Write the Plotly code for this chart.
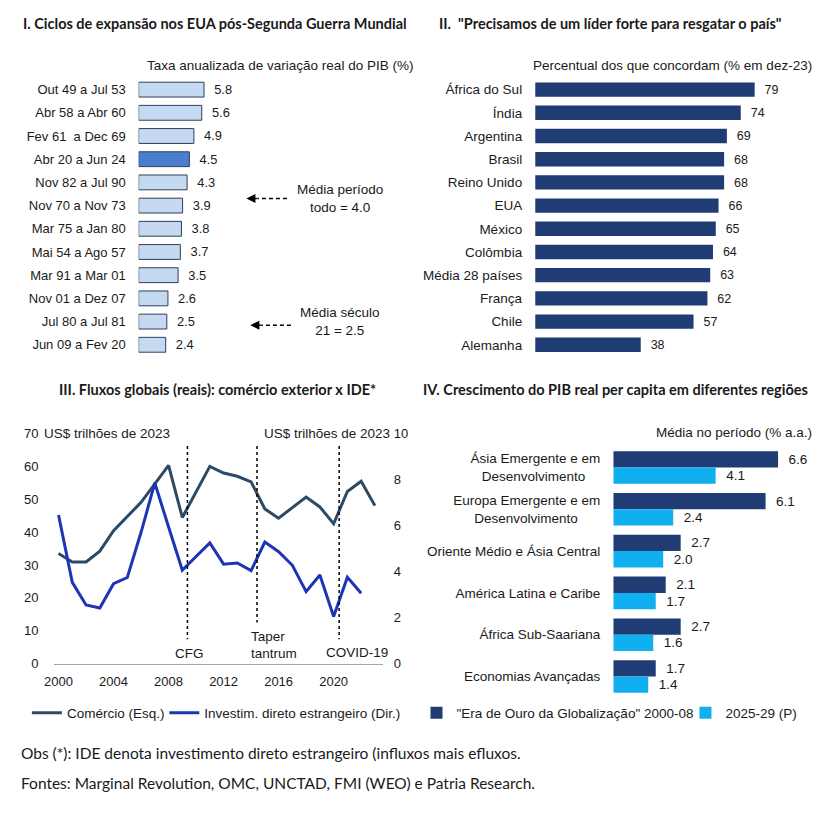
import plotly.graph_objects as go

# page is 823x828; browser default body margin is 8px, so the figure is 807x812
PAGE_W, PAGE_H = 823, 828
M = 8
W, H = PAGE_W - 2 * M, PAGE_H - 2 * M

# ---------------- DATA ----------------
ciclos = ["Out 49 a Jul 53", "Abr 58 a Abr 60", "Fev 61  a Dec 69", "Abr 20 a Jun 24",
          "Nov 82 a Jul 90", "Nov 70 a Nov 73", "Mar 75 a Jan 80", "Mai 54 a Ago 57",
          "Mar 91 a Mar 01", "Nov 01 a Dez 07", "Jul 80 a Jul 81", "Jun 09 a Fev 20"]
taxa_pib = [5.8, 5.6, 4.9, 4.5, 4.3, 3.9, 3.8, 3.7, 3.5, 2.6, 2.5, 2.4]
ciclo_destaque = "Abr 20 a Jun 24"

paises = ["África do Sul", "Índia", "Argentina", "Brasil", "Reino Unido", "EUA", "México",
          "Colômbia", "Média 28 países", "França", "Chile", "Alemanha"]
concordam = [79, 74, 69, 68, 68, 66, 65, 64, 63, 62, 57, 38]

anos_comercio = list(range(2000, 2024))
comercio = [33.5, 30.9, 30.9, 34.2, 40.4, 44.7, 49.0, 54.6, 60.2, 44.4, 52.2, 59.9,
            57.9, 56.9, 55.2, 47.0, 44.2, 47.5, 50.6, 47.6, 42.5, 52.3, 55.4, 48.0]
anos_ide = list(range(2000, 2023))
ide = [6.45, 3.53, 2.55, 2.42, 3.47, 3.74, 5.7, 7.84, 5.93, 4.06, 4.65, 5.24,
       4.32, 4.37, 4.04, 5.28, 4.86, 4.27, 3.13, 3.85, 2.05, 3.75, 3.06]
eventos_ano = [2009.37, 2014.43, 2020.4]
x3_ticks = [2000, 2004, 2008, 2012, 2016, 2020]

regioes = ["Ásia Emergente e em<br>Desenvolvimento", "Europa Emergente e em<br>Desenvolvimento",
           "Oriente Médio e Ásia Central", "América Latina e Caribe",
           "África Sub-Saariana", "Economias Avançadas"]
era_ouro = [6.6, 6.1, 2.7, 2.1, 2.7, 1.7]
proj_2025_29 = [4.1, 2.4, 2.0, 1.7, 1.6, 1.4]

# ---------------- STYLE ----------------
FONT = "Liberation Sans"
TITLE_FONT = "Lato"
TXT = "#1a1a1a"
C_LIGHT = "#c5d9f1"
C_HIGH = "#4a7fcf"
C_EDGE = "#2b3f5c"
C_NAVY = "#1f3c74"
C_CYAN = "#10b0f0"
C_COM = "#2d4a64"
C_IDE = "#1d35b5"
NB = "\u00a0"


def px(x):
    return (x - M) / W


def py(y):
    return 1 - (y - M) / H


# centre the two-line labels of panel IV (plotly right-aligns tick label lines)
regioes_txt = [r.replace("<br>Desenvolvimento", "<br>Desenvolvimento" + NB * n) if "<br>" in r else r
               for r, n in zip(regioes, [4, 6, 0, 0, 0, 0])]

fig = go.Figure()

fig.add_trace(go.Bar(
    x=taxa_pib, y=ciclos, orientation="h", xaxis="x", yaxis="y",
    marker=dict(color=[C_HIGH if c == ciclo_destaque else C_LIGHT for c in ciclos],
                line=dict(color=C_EDGE, width=1)),
    width=0.64, text=["  " + f"{v:.1f}" for v in taxa_pib], textposition="outside",
    textfont=dict(family=FONT, size=13, color=TXT), cliponaxis=False, showlegend=False))

fig.add_trace(go.Bar(
    x=concordam, y=paises, orientation="h", xaxis="x2", yaxis="y2",
    marker=dict(color=C_NAVY, line=dict(width=0)),
    width=0.62, text=["  " + str(v) for v in concordam], textposition="outside",
    textfont=dict(family=FONT, size=13, color=TXT), cliponaxis=False, showlegend=False))

fig.add_trace(go.Scatter(
    x=anos_comercio, y=comercio, mode="lines", xaxis="x3", yaxis="y3",
    line=dict(color=C_COM, width=3), name="Comércio (Esq.)", legend="legend"))
fig.add_trace(go.Scatter(
    x=anos_ide, y=ide, mode="lines", xaxis="x3", yaxis="y4",
    line=dict(color=C_IDE, width=3), name="Investim. direto estrangeiro (Dir.)", legend="legend2"))

fig.add_trace(go.Bar(
    x=era_ouro, y=regioes, orientation="h", xaxis="x5", yaxis="y5",
    marker=dict(color=C_NAVY, line=dict(width=0)), width=0.39, offset=-0.39,
    text=["  " + f"{v:.1f}" for v in era_ouro], textposition="outside",
    textfont=dict(family=FONT, size=13.5, color=TXT), cliponaxis=False,
    name="\"Era de Ouro da Globalização\" 2000-08", legend="legend3"))
fig.add_trace(go.Bar(
    x=proj_2025_29, y=regioes, orientation="h", xaxis="x5", yaxis="y5",
    marker=dict(color=C_CYAN, line=dict(width=0)), width=0.39, offset=0.0,
    text=["  " + f"{v:.1f}" for v in proj_2025_29], textposition="outside",
    textfont=dict(family=FONT, size=13.5, color=TXT), cliponaxis=False,
    name="2025-29 (P)", legend="legend4"))

tickfont = dict(family=FONT, size=13, color=TXT)
tickfont_l = dict(family=FONT, size=13.5, color=TXT)
hidden_x = dict(visible=False, showgrid=False, zeroline=False, fixedrange=True)
cat_y = dict(type="category", autorange="reversed", showgrid=False, zeroline=False,
             showline=False, ticks="", ticklabelstandoff=12)

shapes = []
for xv in eventos_ano:
    y_end = 627 if abs(xv - 2014.43) < 0.01 else 644
    shapes.append(dict(type="line", xref="x3", yref="paper", x0=xv, x1=xv,
                       y0=py(447), y1=py(y_end), line=dict(color="#000000", width=1.5, dash="dot")))

for yy, x_tail in [(195, 281), (324, 285)]:
    shapes.append(dict(type="line", xref="paper", yref="paper", x0=px(x_tail), x1=px(x_tail - 30),
                       y0=py(yy), y1=py(yy), line=dict(color="#000000", width=1.5, dash="4px,3px")))

annotations = []


def ann(text, x, y, size=13, xanchor="left", bold=False, family=FONT, align="left"):
    annotations.append(dict(text=f"<b>{text}</b>" if bold else text, x=px(x), y=py(y),
                            xref="paper", yref="paper", showarrow=False, xanchor=xanchor,
                            yanchor="middle", align=align,
                            font=dict(family=family, size=size, color=TXT)))


ann("I. Ciclos de expansão nos EUA pós-Segunda Guerra Mundial", 12, 17, 14.5, bold=True, family=TITLE_FONT)
ann("II.  \"Precisamos de um líder forte para resgatar o país\"", 433, 17, 14.5, bold=True, family=TITLE_FONT)
ann("III. Fluxos globais (reais): comércio exterior x IDE*", 211, 390, 14.5, xanchor="center", bold=True, family=TITLE_FONT)
ann("IV. Crescimento do PIB real per capita em diferentes regiões", 417, 390, 14.5, bold=True, family=TITLE_FONT)

ann("Taxa anualizada de variação real do PIB (%)", 410, 59, 13.5, xanchor="right")
ann("Percentual dos que concordam (% em dez-23)", 814, 59, 13.5, xanchor="right")
ann("Média no período (% a.a.)", 814, 433, 13.5, xanchor="right")

ann("Média período<br>todo = 4.0", 335, 195, 13.5, xanchor="center", align="center")
ann("Média século<br>21 = 2.5", 335, 320, 13.5, xanchor="center", align="center")

ann("US$ trilhões de 2023", 33, 434, 13.5)
ann("US$ trilhões de 2023", 387, 434, 13.5, xanchor="right")
ann("CFG", 182, 659, 13.5, xanchor="center")
ann("Taper", 243, 641, 13.5)
ann("tantrum", 243, 659, 13.5)
ann("COVID-19", 352, 658, 13.5, xanchor="center")

ann("Obs (*): IDE denota investimento direto estrangeiro (influxos mais efluxos.", 10, 760, 15.5, family=TITLE_FONT)
ann("Fontes: Marginal Revolution, OMC, UNCTAD, FMI (WEO) e Patria Research.", 10, 790, 15.5, family=TITLE_FONT)

for yy, xh in [(195, 240), (324, 244)]:
    annotations.append(dict(x=px(xh), y=py(yy), ax=12, ay=0, xref="paper", yref="paper",
                            showarrow=True, arrowhead=2, arrowsize=1.2,
                            arrowwidth=1.5, arrowcolor="#000000", text=""))

leg_common = dict(orientation="h", yanchor="middle", xanchor="left", bgcolor="rgba(0,0,0,0)",
                  font=dict(family=FONT, size=13.5, color=TXT), itemwidth=30)

fig.update_layout(
    width=W, height=H, margin=dict(l=0, r=0, t=0, b=0),
    paper_bgcolor="white", plot_bgcolor="white",
    font=dict(family=FONT, size=13, color=TXT),
    barmode="overlay",
    xaxis=dict(domain=[px(131), px(245)], range=[0, 10], anchor="y", **hidden_x),
    yaxis=dict(domain=[py(355.8), py(72.2)], anchor="x", tickfont=tickfont, **cat_y),
    xaxis2=dict(domain=[px(532), px(813)], range=[0, 100], anchor="y2", **hidden_x),
    yaxis2=dict(domain=[py(355.8), py(72.2)], anchor="x2", tickfont=tickfont_l, **cat_y),
    xaxis3=dict(domain=[px(45), px(378)], range=[1999.64, 2023.58], anchor="y3",
                tickvals=x3_ticks, showgrid=False, zeroline=False, showline=True,
                linecolor="#a6a6a6", linewidth=1, ticks="", tickfont=tickfont, ticklabelstandoff=6),
    yaxis3=dict(domain=[py(669), py(434)], range=[0, 70], dtick=10, anchor="x3",
                showgrid=False, zeroline=False, showline=False, ticks="", tickfont=tickfont,
                ticklabelstandoff=14),
    yaxis4=dict(domain=[py(669), py(434)], range=[0, 10], dtick=2, anchor="x3", overlaying="y3",
                side="right", showgrid=False, zeroline=False, showline=False, ticks="",
                tickfont=tickfont, ticklabelstandoff=10),
    xaxis5=dict(domain=[px(611), px(813)], range=[0, 8], anchor="y5", **hidden_x),
    yaxis5=dict(domain=[py(703.3), py(447.7)], anchor="x5", tickfont=tickfont_l,
                tickvals=regioes, ticktext=regioes_txt, **cat_y),
    legend=dict(x=px(18), y=py(719), **leg_common),
    legend2=dict(x=px(157), y=py(719), **leg_common),
    legend3=dict(x=px(412), y=py(719), **leg_common),
    legend4=dict(x=px(684), y=py(719), **leg_common),
    shapes=shapes, annotations=annotations,
)

fig.write_html("out.html", config={"displayModeBar": False})
